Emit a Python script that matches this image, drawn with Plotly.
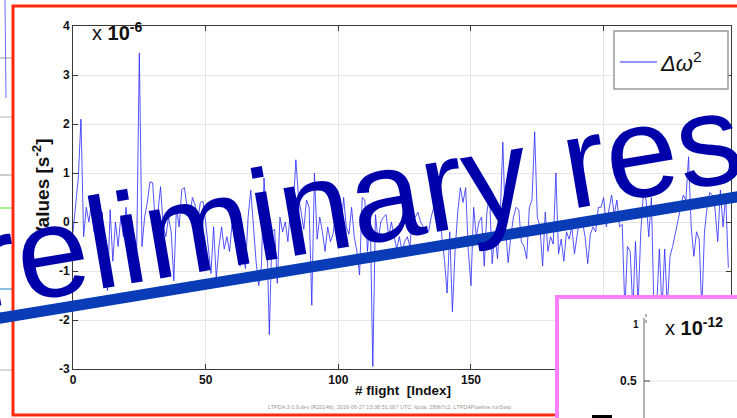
import plotly.graph_objects as go

# ---- data (values in units of 1e-6 s^-2) ----
flight_index = list(range(248))
delta_omega2_e6 = [
    -0.2, 0.3, 0.9, 2.1, -0.3, 0.3, 0.0, 0.4, -0.2, 0.45,
    -0.5, 0.2, -0.6, -1.4, 0.25, -0.8, 0.0, -0.5, 0.1, -0.3,
    0.3, -0.4, 0.1, -0.5, -0.6, 3.45, -0.5, 0.1, 0.4, 0.82,
    0.8, 0.0, 0.2, 0.72, -0.1, -0.3, 0.1, -0.2, -1.2, 0.3,
    -0.1, 0.66, 0.7, 0.3, 0.1, 0.5, 0.35, 0.0, 0.4, 0.42,
    0.0, -0.55, -1.05, -0.1, -1.15, -0.5, -0.1, -0.55, -0.3, -0.6,
    0.0, -0.4, -0.45, -0.9, -0.6, -0.95, 0.1, 0.65, -0.1, -0.8,
    -1.3, -0.9, 0.9, -0.1, -2.3, -0.2, -0.15, -1.25, 0.1, -0.2,
    0.0, -0.4, 0.3, 0.3, 1.27, 0.5, 0.2, -0.15, 0.45, 0.3,
    -1.7, 1.0, -0.35, 0.1, -0.2, -0.6, -0.1, -0.4, -0.25, 0.15,
    0.25, -0.15, 0.5, -0.1, -0.25, 0.3, -0.3, -0.6, -1.08, 0.5,
    0.45, -0.6, 0.2, -2.95, 0.15, -0.4, 0.0, 0.1, 0.15, -0.3,
    0.0, -0.3, -0.55, -0.3, -0.6, -0.4, -0.3, -0.5, 0.2, 0.1,
    0.2, 0.0, -0.1, -0.15, -0.2, 0.1, 0.3, 0.7, 0.6, -0.3,
    -0.77, -1.45, -0.2, -1.83, -0.6, 0.2, 0.7, 0.4, 0.7, -0.6,
    -1.3, 0.3, -0.3, 0.0, 0.1, -0.9, 0.2, 0.55, -0.85, -0.2,
    -0.75, 0.1, 1.63, -0.1, -0.83, -0.3, 0.1, 0.3, 0.25, -0.4,
    -0.5, -0.75, 0.3, 0.45, 1.84, 0.1, -0.1, -0.9, 0.2, -0.6,
    -0.3, -0.45, 1.0, -0.65, -0.35, -0.8, -0.2, -0.35, -0.1, -0.65,
    -0.3, 0.1, 0.0, -0.3, -0.85, -0.25, -0.1, -0.2, 0.3, 0.3,
    0.5, -0.1, 0.25, 0.55, 0.15, 0.45, -0.1, -0.05, -1.8, -0.5,
    -0.6, -1.8, -0.4, -1.7, -0.2, 0.6, 0.45, -0.3, 0.5, -1.9,
    -1.7, -0.55, -1.8, -0.55, -1.75, -0.7, -0.5, -0.25, 0.0, 0.3,
    0.55, 0.45, 1.33, -0.1, -0.7, -0.2, -0.35, -1.8, -0.2, 0.3,
    0.6, 0.55, 0.25, -0.4, 0.65, -0.1, 0.55, -0.93,
]
x_ticks = [0, 50, 100, 150, 200]
y_ticks = [-3, -2, -1, 0, 1, 2, 3, 4]
series_name = "<i>Δω</i><sup>2</sup>"
x_title = "# flight  [Index]"
y_title = "Values [s<sup>-2</sup>]"
exponent_label = "x <b>10<sup>-6</sup></b>"
watermark = "Preliminary results"
footer = "LTPDA 3.0.9.dev (R2014b), 2016-06-27 13:38:51.067 UTC, ltpda: 289b7c2, LTPDAPipeline.runStep"

# ---- geometry helpers (figure pixels -> paper coords) ----
W, H = 737, 418
ML, MR, MT, MB = 73, 6, 26, 49
PW, PH = W - ML - MR, H - MT - MB


def px(X):
    return (X - ML) / PW


def py(Y):
    return (H - MB - Y) / PH


FONT = "Arial, Liberation Sans, Helvetica, sans-serif"
LINE_BLUE = "rgb(40,40,255)"

fig = go.Figure()
fig.add_trace(go.Scatter(
    x=flight_index, y=delta_omega2_e6, mode="lines", name=series_name,
    line=dict(color=LINE_BLUE, width=0.8),
    showlegend=False,
))

axis_common = dict(
    showline=True, linecolor="#3a3a3a", linewidth=1, mirror="ticks",
    ticks="inside", ticklen=5, tickcolor="#3a3a3a",
    showgrid=True, gridcolor="#e6e6e6", gridwidth=1, zeroline=False,
    tickfont=dict(family=FONT, size=12, color="#111"),
    automargin=False,
)
fig.update_xaxes(range=[0, 248], tickvals=x_ticks,
                 ticktext=["<b>%d</b>" % v for v in x_ticks], **axis_common)
fig.update_yaxes(range=[-3, 4], tickvals=y_ticks,
                 ticktext=["<b>%d</b>" % v for v in y_ticks], **axis_common)

shapes = []
# left-edge fragments of a neighbouring figure
for Y, col in [(58, "#bbbbbb"), (117, "#cccccc"), (175, "#bbbbbb"), (208, "#88ee66"),
               (289, "#66aadd"), (313, "#aaaaaa"), (370, "#cccccc")]:
    shapes.append(dict(type="line", xref="paper", yref="paper", x0=px(0), x1=px(12),
                       y0=py(Y), y1=py(Y), line=dict(color=col, width=1.5), layer="below"))
shapes.append(dict(type="line", xref="paper", yref="paper", x0=px(5), x1=px(6),
                   y0=py(0), y1=py(98), line=dict(color="#6a6aff", width=1), layer="below"))
# red frame
shapes.append(dict(type="rect", xref="paper", yref="paper", x0=px(13), x1=px(745),
                   y0=py(415), y1=py(6), line=dict(color="#ff2a10", width=3), layer="below"))
# legend box (drawn by hand to match the MATLAB legend)
shapes.append(dict(type="rect", xref="paper", yref="paper", x0=px(614), x1=px(728),
                   y0=py(89), y1=py(31), fillcolor="white",
                   line=dict(color="#999999", width=1.5), layer="above"))
shapes.append(dict(type="line", xref="paper", yref="paper", x0=px(620), x1=px(657),
                   y0=py(62), y1=py(62), line=dict(color=LINE_BLUE, width=1), layer="above"))
# thick diagonal stroke
shapes.append(dict(type="line", xref="paper", yref="paper", x0=px(-5), y0=py(319),
                   x1=px(742), y1=py(196), line=dict(color="#0a3cb8", width=11), layer="above"))
# pink inset panel
shapes.append(dict(type="rect", xref="paper", yref="paper", x0=px(557), x1=px(750),
                   y0=py(430), y1=py(297), fillcolor="white",
                   line=dict(color="#ff80ff", width=4), layer="above"))
shapes.append(dict(type="line", xref="paper", yref="paper", x0=px(644), x1=px(644),
                   y0=py(430), y1=py(318), line=dict(color="#999999", width=1.5), layer="above"))
shapes.append(dict(type="line", xref="paper", yref="paper", x0=px(645), x1=px(737),
                   y0=py(381), y1=py(381), line=dict(color="#e2e2e2", width=1), layer="above"))
shapes.append(dict(type="line", xref="paper", yref="paper", x0=px(644), x1=px(650),
                   y0=py(381), y1=py(381), line=dict(color="#444", width=1), layer="above"))
shapes.append(dict(type="line", xref="paper", yref="paper", x0=px(646), x1=px(646),
                   y0=py(314), y1=py(323), line=dict(color="#666", width=1, dash="dot"), layer="above"))
shapes.append(dict(type="rect", xref="paper", yref="paper", x0=px(592), x1=px(612),
                   y0=py(420), y1=py(415), fillcolor="black", line=dict(width=0), layer="above"))

annotations = [
    dict(text="<b>" + y_title + "</b>", xref="paper", yref="paper", x=px(41), y=py(189),
         xanchor="center", yanchor="middle", showarrow=False, textangle=-90,
         font=dict(family=FONT, size=19, color="#111")),
    dict(text="<b>" + x_title.replace("  ", " &nbsp;") + "</b>", xref="paper", yref="paper",
         x=px(403), y=py(390), xanchor="center", yanchor="middle", showarrow=False,
         font=dict(family=FONT, size=13.5, color="#111")),
    dict(text=exponent_label, xref="paper", yref="paper", x=px(90), y=py(31),
         xanchor="left", yanchor="middle", showarrow=False,
         font=dict(family=FONT, size=20, color="#111")),
    dict(text=series_name, xref="paper", yref="paper", x=px(658), y=py(62),
         xanchor="left", yanchor="middle", showarrow=False,
         font=dict(family=FONT, size=22, color="#111")),
    dict(text=footer, xref="paper", yref="paper", x=px(389), y=py(407),
         xanchor="center", yanchor="middle", showarrow=False,
         font=dict(family=FONT, size=5.5, color="#999")),
    dict(text="<b>1</b>", xref="paper", yref="paper", x=px(641), y=py(324),
         xanchor="right", yanchor="middle", showarrow=False,
         font=dict(family=FONT, size=10, color="#111")),
    dict(text="<b>0.5</b>", xref="paper", yref="paper", x=px(639), y=py(381),
         xanchor="right", yanchor="middle", showarrow=False,
         font=dict(family=FONT, size=12, color="#111")),
    dict(text="x <b>10<sup>-12</sup></b>", xref="paper", yref="paper", x=px(663), y=py(326),
         xanchor="left", yanchor="middle", showarrow=False,
         font=dict(family=FONT, size=20, color="#111")),
    dict(text=watermark, xref="paper", yref="paper", x=px(414), y=py(190),
         xanchor="center", yanchor="middle", showarrow=False, textangle=-9.6,
         font=dict(family=FONT, size=129.5, color="#0000aa")),
]

fig.update_layout(
    width=W, height=H, margin=dict(l=ML, r=MR, t=MT, b=MB, autoexpand=False),
    paper_bgcolor="white", plot_bgcolor="white",
    shapes=shapes, annotations=annotations,
    showlegend=False,
)

fig.write_html("out.html", config={"displayModeBar": False},
               post_script="document.body.style.margin='0';document.body.style.overflow='hidden';")
